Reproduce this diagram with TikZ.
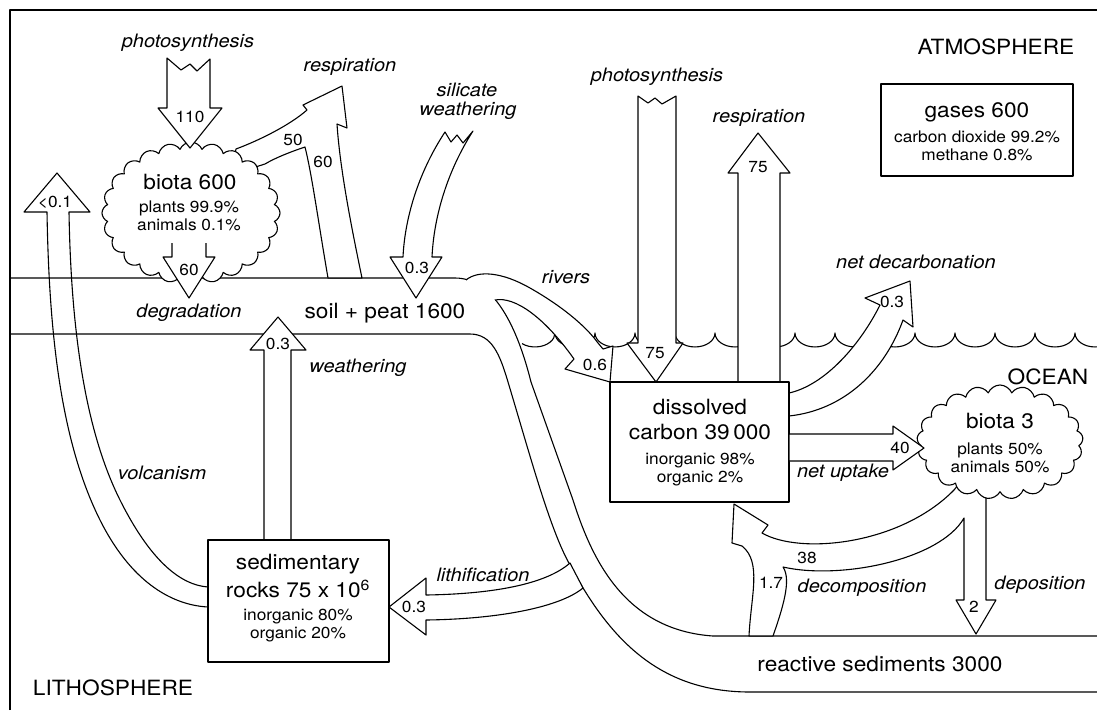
\documentclass[tikz,border=0pt]{standalone}
\usepackage{fontspec}
\setmainfont{TeX Gyre Heros}[FakeStretch=1.08]
\usetikzlibrary{shapes.symbols}
\begin{document}
\begin{tikzpicture}[x=1pt,y=-1pt, line width=1.1pt, line join=round,
  flow/.style={draw=black, fill=white},
  big/.style={font=\fontsize{21}{24}\selectfont, inner sep=0pt},
  lab/.style={font=\fontsize{18.5}{21}\selectfont\itshape, inner sep=0pt},
  small/.style={font=\fontsize{16}{18}\selectfont, inner sep=0pt},
  num/.style={font=\fontsize{16}{18}\selectfont, inner sep=0pt},
  box/.style={draw=black, fill=white, inner sep=0pt},
  puff/.style={cloud, draw=black, fill=white, cloud puff arc=135, inner sep=0pt}]
\useasboundingbox (0,0) rectangle (1097,710);

% frame
\draw (10,710) -- (10,10) -- (1097,10);

% sea surface
\draw (522,343.6) arc[start angle=130.5,end angle=0,x radius=20,y radius=14]
  \foreach \i in {1,...,14} { arc[start angle=180,end angle=0,x radius=20,y radius=14] };

% volcanism
\filldraw[flow] (208,607) .. controls (170,605) and (130,580) .. (100,520)
  .. controls (60,440) and (49,330) .. (47,212) -- (24,212) -- (57,173) -- (90,212) -- (69,212)
  .. controls (71,330) and (85,430) .. (120,500) .. controls (150,560) and (180,585) .. (208,587) -- cycle;

% soil band and flow to reactive sediments
\draw (10,278) -- (455,278) .. controls (495,278) and (518,330) .. (531,382)
  -- (573,500) .. controls (592,560) and (625,630) .. (713,636) -- (1097,636);
\draw (10,334) -- (470,334) .. controls (492,334) and (500,355) .. (508,382)
  .. controls (530,455) and (550,530) .. (570,565) .. controls (610,640) and (660,692) .. (750,692) -- (1097,692);

% rivers
\fill[white] (466,280) .. controls (478,270) and (502,272) .. (530,288) .. controls (560,305) and (585,325) .. (598,343)
  -- (603,349) -- (613,346) -- (610,382) -- (565,369) -- (574,359)
  .. controls (545,318) and (515,296) .. (495,300) -- cycle;
\draw (466,280) .. controls (478,270) and (502,272) .. (530,288) .. controls (560,305) and (585,325) .. (598,343)
  -- (603,349) -- (613,346) -- (610,382) -- (565,369) -- (574,359)
  .. controls (545,318) and (515,296) .. (495,300);

% lithification
\filldraw[flow] (570,563) .. controls (545,585) and (490,594) .. (426,595) -- (426,578) -- (389,607)
  -- (426,635) -- (426,620) .. controls (500,619) and (560,607) .. (583,588) -- cycle;

% land respiration
\filldraw[flow] (236,149) .. controls (260,140) and (290,125) .. (307,110) -- (303,105) -- (342,86)
  -- (347,128) -- (337,124) .. controls (340,170) and (352,230) .. (362,278) -- (328,278)
  .. controls (318,220) and (312,175) .. (305,147) .. controls (290,152) and (275,158) .. (265,164)
  -- (230,175) -- cycle;

% biota on land
\node[puff, cloud puffs=24, minimum width=178, minimum height=142] (biotaL) at (191,213) {};

% degradation arrow
\fill[white] (172,243) -- (172,257) -- (163,257) -- (189,298) -- (215,257) -- (206,257) -- (206,243) -- cycle;
\draw (172,243) -- (172,257) -- (163,257) -- (189,298) -- (215,257) -- (206,257) -- (206,243);

% land photosynthesis
\filldraw[flow] (167,58) -- (181,70) -- (190,64) -- (197,71) -- (210,59) -- (210,108) -- (222,108)
  -- (190,148) -- (158,108) -- (167,108) -- cycle;

% silicate weathering
\filldraw[flow] (403,257) .. controls (405,215) and (420,170) .. (445,132) -- (451,142) -- (457,135)
  -- (463,143) -- (473,131) .. controls (448,170) and (434,215) .. (432,257) -- (442,257)
  -- (416,298) -- (390,257) -- cycle;

% weathering
\filldraw[flow] (264,540) -- (264,350) -- (250,350) -- (278,317) -- (306,350) -- (291,350) -- (291,540) -- cycle;

% sedimentary rocks
\node[box, minimum width=181, minimum height=122] (rocks) at (298.5,601) {};

% ocean photosynthesis
\filldraw[flow] (638,96) -- (648,103) -- (655,98) -- (662,104) -- (676,96) -- (676,343) -- (683,343)
  -- (656,382) -- (627,343) -- (638,343) -- cycle;

% ocean respiration
\filldraw[flow] (738,382) -- (738,173) -- (728,173) -- (758,133) -- (790,173) -- (780,173) -- (780,382) -- cycle;

% net decarbonation
\filldraw[flow] (789,393) .. controls (825,385) and (860,345) .. (880,305) -- (865,298) -- (910,281)
  -- (913,327) -- (903,320) .. controls (885,370) and (845,410) .. (789,416) -- cycle;

% dissolved carbon
\node[box, minimum width=179, minimum height=120] (dissolved) at (699.5,442) {};

% decomposition / deposition
\filldraw[flow] (749,636) .. controls (751,595) and (762,562) .. (742,546) -- (732,543) -- (734,504)
  -- (768,525) -- (762,533) .. controls (800,555) and (900,545) .. (954,490) -- (970,470) -- (986,480)
  -- (986,600) -- (996,600) -- (976,634) -- (956,600) -- (964,600) -- (964,518)
  .. controls (940,560) and (840,580) .. (783,567) .. controls (792,580) and (782,610) .. (773,636) -- cycle;

% ocean biota
\node[puff, cloud puffs=21, minimum width=166, minimum height=114] (biotaO) at (1000,442) {};

% net uptake
\filldraw[flow] (789,434) -- (893,434) -- (893,426) -- (924,448) -- (893,470) -- (893,461) -- (789,461) -- cycle;

% gases
\node[box, minimum width=192, minimum height=92] (gases) at (977,130) {};

% texts
\node[big] (tatm) at (996,47) {ATMOSPHERE};
\node[big] (tocean) at (1048,377) {OCEAN};
\node[big] (tlitho) at (113,688) {LITHOSPHERE};
\node[big] (tgases) at (977,112) {gases 600};
\node[small] (tco2) at (977,137) {carbon dioxide 99.2\%};
\node[small] (tch4) at (977,155) {methane 0.8\%};
\node[big] (tbiotaL) at (190,182) {biota 600};
\node[small] (tplantsL) at (189,208) {plants 99.9\%};
\node[small] (tanimalsL) at (189,225) {animals 0.1\%};
\node[big] (tsoil) at (385,313) {soil + peat 1600};
\node[big] (tdis1) at (700,407) {dissolved};
\node[big] (tdis2) at (700,432) {carbon 39\,000};
\node[small] (tdis3) at (700,461) {inorganic 98\%};
\node[small] (tdis4) at (700,479) {organic 2\%};
\node[big] (tbiotaO) at (1000,421) {biota 3};
\node[small] (tplantsO) at (1000,450) {plants 50\%};
\node[small] (tanimalsO) at (1000,467) {animals 50\%};
\node[big] (trock1) at (298,564) {sedimentary};
\node[big] (trock2) at (298,589) {rocks 75 x 10\textsuperscript{6}};
\node[small] (trock3) at (298,617) {inorganic 80\%};
\node[small] (trock4) at (298,635) {organic 20\%};
\node[big] (treact) at (880,664) {reactive sediments 3000};

\node[lab] (lphot1) at (188,43) {photosynthesis};
\node[lab] (lresp1) at (350,67) {respiration};
\node[lab] (lsil1) at (467,90) {silicate};
\node[lab] (lsil2) at (468,111) {weathering};
\node[lab] (lphot2) at (657,77) {photosynthesis};
\node[lab] (lresp2) at (759,118) {respiration};
\node[lab] (ldecarb) at (916,262) {net decarbonation};
\node[lab] (ldegr) at (189,313) {degradation};
\node[lab] (lrivers) at (566,277) {rivers};
\node[lab] (lweath) at (358,368) {weathering};
\node[lab] (luptake) at (843,473) {net uptake};
\node[lab] (lvolc) at (162,473) {volcanism};
\node[lab] (llith) at (483,575) {lithification};
\node[lab] (ldecomp) at (862,588) {decomposition};
\node[lab] (ldepo) at (1040,585) {deposition};

\node[num] (n110) at (190,117) {110};
\node[num] (n50) at (293,140) {50};
\node[num] (n60a) at (323,162) {60};
\node[num] (n60b) at (189,270) {60};
\node[num] (nlt) at (55,202) {<0.1};
\node[num] (nsil) at (417,268) {0.3};
\node[num] (nweath) at (278,344) {0.3};
\node[num] (nriv) at (595,365) {0.6};
\node[num] (n75a) at (655,353) {75};
\node[num] (n75b) at (758,167) {75};
\node[num] (ndec) at (892,302) {0.3};
\node[num] (n40) at (900,448) {40};
\node[num] (nlith) at (414,607) {0.3};
\node[num] (n38) at (807,558) {38};
\node[num] (n17) at (771,583) {1.7};
\node[num] (n2) at (974,607) {2};
\end{tikzpicture}
\end{document}
